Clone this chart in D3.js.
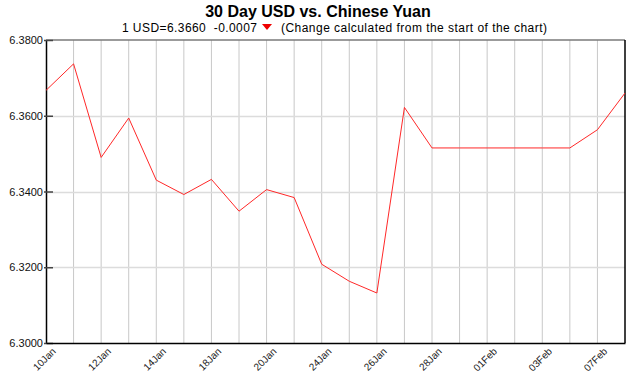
<!DOCTYPE html>
<html>
<head>
<meta charset="utf-8">
<script src="https://cdn.jsdelivr.net/npm/d3@7"></script>
<style>
  body { margin: 0; background: #fff; }
  text { font-family: "Liberation Sans", Arial, sans-serif; }
</style>
</head>
<body>
<svg id="chart"></svg>
<script>
// data
let dates = ['10Jan', '11Jan', '12Jan', '13Jan', '14Jan', '17Jan', '18Jan', '19Jan',
  '20Jan', '21Jan', '24Jan', '25Jan', '26Jan', '27Jan', '28Jan', '31Jan',
  '01Feb', '02Feb', '03Feb', '04Feb', '07Feb', '08Feb'];
let rates = [6.3667, 6.3737, 6.3490, 6.3594, 6.3430, 6.3392, 6.3432, 6.3348,
  6.3405, 6.3384, 6.3208, 6.3163, 6.3132, 6.3622, 6.3515, 6.3515,
  6.3515, 6.3515, 6.3515, 6.3515, 6.3563, 6.3660];
let labelled = ['10Jan', '12Jan', '14Jan', '18Jan', '20Jan', '24Jan', '26Jan',
  '28Jan', '01Feb', '03Feb', '07Feb'];
let yTicks = [6.30, 6.32, 6.34, 6.36, 6.38];

let width = 636, height = 375;
let margin = { top: 40, right: 11, bottom: 32, left: 46 };
let plotWidth = width - margin.left - margin.right;
let plotHeight = height - margin.top - margin.bottom;

function translate(x, y) {
  return 'translate(' + x + ',' + y + ')';
}

let svg = d3.select('#chart').attr('width', width).attr('height', height);

// title + subtitle
svg.append('text')
  .attr('x', 318).attr('y', 17)
  .attr('text-anchor', 'middle')
  .style('font-size', '16px').style('font-weight', 'bold')
  .text('30 Day USD vs. Chinese Yuan');

svg.append('text')
  .attr('x', 122).attr('y', 32)
  .attr('textLength', 135).attr('lengthAdjust', 'spacing')
  .style('font-size', '12px')
  .style('white-space', 'pre')
  .text('1 USD=6.3660  -0.0007');
svg.append('text')
  .attr('x', 281).attr('y', 32)
  .attr('textLength', 266).attr('lengthAdjust', 'spacing')
  .style('font-size', '12px')
  .text('(Change calculated from the start of the chart)');
svg.append('path')
  .attr('d', 'M262,24 L272,24 L267,30 Z')
  .attr('fill', '#e00');

let x = d3.scalePoint().domain(dates).range([0, plotWidth]);
let y = d3.scaleLinear().domain([6.30, 6.38]).range([plotHeight, 0]);

let plot = svg.append('g').attr('transform', translate(margin.left, margin.top));

// vertical grid
plot.append('g')
  .selectAll('line')
  .data(dates.slice(1, -1))
  .join('line')
  .attr('x1', d => x(d)).attr('x2', d => x(d))
  .attr('y1', 0).attr('y2', plotHeight)
  .attr('stroke', '#c8c8c8').attr('stroke-width', 1);

// horizontal grid
plot.append('g')
  .selectAll('line')
  .data(yTicks.slice(1, -1))
  .join('line')
  .attr('x1', 0).attr('x2', plotWidth)
  .attr('y1', d => Math.round(y(d)) + 0.5).attr('y2', d => Math.round(y(d)) + 0.5)
  .attr('stroke', '#dcdcdc').attr('stroke-width', 1.5);

// top border
plot.append('line')
  .attr('x1', 0).attr('x2', plotWidth)
  .attr('y1', 0).attr('y2', 0)
  .attr('stroke', '#7a7a7a').attr('stroke-width', 1.5);
// right border
plot.append('line')
  .attr('x1', plotWidth).attr('x2', plotWidth)
  .attr('y1', 0).attr('y2', plotHeight)
  .attr('stroke', '#000').attr('stroke-width', 1.5);

// y axis
let yAxis = d3.axisLeft(y).tickValues(yTicks).tickFormat(d3.format('.4f')).tickSizeInner(-7).tickSizeOuter(0).tickPadding(3);
let yGroup = plot.append('g').call(yAxis);
yGroup.select('.domain').attr('stroke', '#000').attr('stroke-width', 1.5);
yGroup.selectAll('.tick line').attr('stroke', '#444').attr('stroke-width', 1.5)
  .attr('x1', -2);
yGroup.selectAll('.tick text').style('font-size', '11px').style('font-family', '"Liberation Sans", Arial, sans-serif').attr('fill', '#111');

// x axis
let xAxis = d3.axisBottom(x).tickValues(labelled).tickSize(0).tickPadding(0);
let xGroup = plot.append('g').attr('transform', translate(0, plotHeight)).call(xAxis);
xGroup.select('.domain').attr('stroke', '#000').attr('stroke-width', 1.5);
xGroup.selectAll('.tick text')
  .attr('text-anchor', 'end')
  .attr('dy', 0)
  .attr('transform', 'translate(10,9) rotate(-45)')
  .style('font-size', '10px')
  .style('font-family', '"Liberation Sans", Arial, sans-serif')
  .attr('fill', '#222');

// line
let line = d3.line()
  .x((d, i) => x(dates[i]))
  .y(d => y(d));

plot.append('path')
  .datum(rates)
  .attr('fill', 'none')
  .attr('stroke', '#ff2828')
  .attr('stroke-width', 1)
  .attr('d', line);
</script>
</body>
</html>
